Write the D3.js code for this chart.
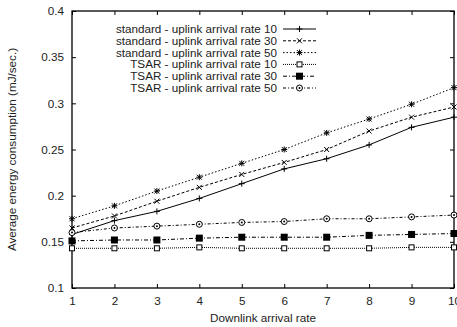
<!DOCTYPE html>
<html>
<head>
<meta charset="utf-8">
<script src="https://cdn.jsdelivr.net/npm/d3@7"></script>
<style>
  body { margin: 0; background: #fff; }
  text { font-family: "Liberation Sans", Arial, sans-serif; }
</style>
</head>
<body>
<div id="displaybox"></div>
<script>
let xValues = [1, 2, 3, 4, 5, 6, 7, 8, 9, 10];
let yTicks = [0.1, 0.15, 0.2, 0.25, 0.3, 0.35, 0.4];

let std10 = [0.158, 0.173, 0.183, 0.197, 0.213, 0.229, 0.240, 0.255, 0.274, 0.285];
let std30 = [0.165, 0.178, 0.194, 0.209, 0.223, 0.236, 0.250, 0.270, 0.285, 0.296];
let std50 = [0.175, 0.189, 0.205, 0.220, 0.235, 0.250, 0.268, 0.283, 0.299, 0.317];
let tsar10 = [0.143, 0.143, 0.143, 0.144, 0.143, 0.143, 0.143, 0.143, 0.144, 0.144];
let tsar30 = [0.151, 0.152, 0.152, 0.154, 0.155, 0.155, 0.155, 0.157, 0.158, 0.159];
let tsar50 = [0.160, 0.165, 0.167, 0.169, 0.171, 0.172, 0.175, 0.175, 0.177, 0.179];

let seriesNames = [
    "standard - uplink arrival rate 10",
    "standard - uplink arrival rate 30",
    "standard - uplink arrival rate 50",
    "TSAR - uplink arrival rate 10",
    "TSAR - uplink arrival rate 30",
    "TSAR - uplink arrival rate 50"
];

let series = [
    {name: seriesNames[0], values: std10, dash: null, marker: "plus"},
    {name: seriesNames[1], values: std30, dash: "3,2", marker: "cross"},
    {name: seriesNames[2], values: std50, dash: "1.5,2", marker: "star"},
    {name: seriesNames[3], values: tsar10, dash: "1,1", marker: "square"},
    {name: seriesNames[4], values: tsar30, dash: "4,2,1,2", marker: "fsquare"},
    {name: seriesNames[5], values: tsar50, dash: "3,2,1,2", marker: "circle"}
];

let fontSize = 11.7;
let margin = {top: 11, right: 3, bottom: 39, left: 72};
let W = 457, H = 327;
let width = W - margin.left - margin.right;
let height = H - margin.top - margin.bottom;

let svg = d3.select("#displaybox").append("svg")
    .attr("width", W).attr("height", H);
let g = svg.append("g")
    .attr("transform", `translate(${margin.left},${margin.top})`);

let x = d3.scaleLinear().domain([1, 10]).range([0, width]);
let y = d3.scaleLinear().domain([0.1, 0.4]).range([height, 0]);

// axes with inward ticks, mirrored on top/right
let tickLen = 4;
g.append("g")
    .attr("transform", `translate(0,${height})`)
    .call(d3.axisBottom(x).tickValues(xValues).tickSizeInner(-tickLen).tickSizeOuter(0).tickPadding(9).tickFormat(d3.format("d")));
g.append("g")
    .call(d3.axisTop(x).tickValues(xValues).tickSizeInner(-tickLen).tickSizeOuter(0).tickFormat(""));
g.append("g")
    .call(d3.axisLeft(y).tickValues(yTicks).tickSizeInner(-tickLen).tickSizeOuter(0).tickPadding(8).tickFormat(d => d3.format("")(+d.toFixed(2))));
g.append("g")
    .attr("transform", `translate(${width},0)`)
    .call(d3.axisRight(y).tickValues(yTicks).tickSizeInner(-tickLen).tickSizeOuter(0).tickFormat(""));

g.selectAll(".domain").remove();
g.selectAll(".tick line").attr("stroke", "#000");
g.selectAll(".tick text").attr("font-size", fontSize).attr("fill", "#222")
    .style("font-family", "Liberation Sans, Arial, sans-serif");

g.append("rect")
    .attr("width", width).attr("height", height)
    .attr("fill", "none").attr("stroke", "#000").attr("stroke-width", 1.3);

// axis titles
svg.append("text")
    .attr("x", margin.left + width / 2).attr("y", 322)
    .attr("text-anchor", "middle").attr("font-size", fontSize).attr("fill", "#222")
    .text("Downlink arrival rate");
svg.append("text")
    .attr("transform", `translate(16,${margin.top + height / 2}) rotate(-90)`)
    .attr("text-anchor", "middle").attr("font-size", fontSize).attr("fill", "#222")
    .text("Average energy consumption (mJ/sec.)");

function drawMarker(sel, type, cx, cy) {
    let m = sel.append("g").attr("transform", `translate(${cx},${cy})`);
    if (type === "plus") {
        m.append("path").attr("d", "M-3,0H3M0,-3V3").attr("stroke", "#000").attr("stroke-width", 1);
    } else if (type === "cross") {
        m.append("path").attr("d", "M-2.5,-2.5L2.5,2.5M-2.5,2.5L2.5,-2.5").attr("stroke", "#000").attr("stroke-width", 1);
    } else if (type === "star") {
        m.append("path").attr("d", "M-3,0H3M0,-3V3M-2.5,-2.5L2.5,2.5M-2.5,2.5L2.5,-2.5").attr("stroke", "#000").attr("stroke-width", 1);
    } else if (type === "square") {
        m.append("rect").attr("x", -2.5).attr("y", -2.5).attr("width", 5).attr("height", 5)
            .attr("fill", "#fff").attr("stroke", "#000").attr("stroke-width", 1);
    } else if (type === "fsquare") {
        m.append("rect").attr("x", -3.5).attr("y", -3.5).attr("width", 7).attr("height", 7).attr("fill", "#000");
    } else if (type === "circle") {
        m.append("circle").attr("r", 3).attr("fill", "#fff").attr("stroke", "#000").attr("stroke-width", 1);
        m.append("circle").attr("r", 1).attr("fill", "#000");
    }
}

let line = d3.line()
    .x((d, i) => x(xValues[i]))
    .y(d => y(d));

series.forEach(s => {
    g.append("path")
        .datum(s.values)
        .attr("d", line)
        .attr("fill", "none")
        .attr("stroke", "#000")
        .attr("stroke-width", 1)
        .attr("stroke-dasharray", s.dash);
    s.values.forEach((v, i) => drawMarker(g, s.marker, x(xValues[i]), y(v)));
});

// legend
let legend = svg.append("g");
series.forEach((s, i) => {
    let ly = 29 + i * 11.8;
    legend.append("text")
        .attr("x", 277).attr("y", ly).attr("dy", "0.35em")
        .attr("text-anchor", "end").attr("font-size", fontSize).attr("fill", "#222")
        .text(s.name);
    legend.append("line")
        .attr("x1", 283).attr("x2", 316).attr("y1", ly).attr("y2", ly)
        .attr("stroke", "#000").attr("stroke-width", 1)
        .attr("stroke-dasharray", s.dash);
    drawMarker(legend, s.marker, 299.5, ly);
});
</script>
</body>
</html>
